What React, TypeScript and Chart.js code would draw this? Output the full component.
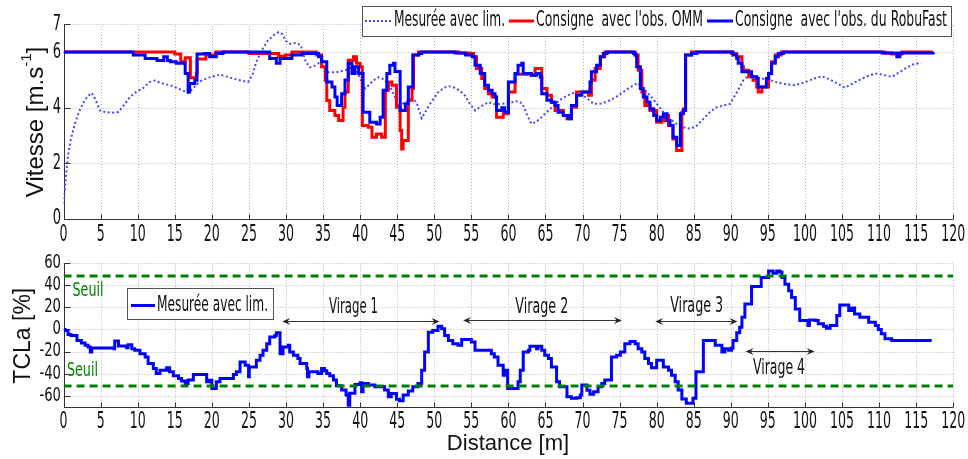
import React, { useEffect, useRef } from 'react';
import { Chart, registerables } from 'chart.js';
Chart.register(...registerables);

// ---------- DATA ----------
const xTicks = [0, 5, 10, 15, 20, 25, 30, 35, 40, 45, 50, 55, 60, 65, 70, 75, 80, 85, 90, 95, 100, 105, 110, 115, 120];
const vTicks = [0, 2, 4, 6, 7];
const tTicks = [-60, -40, -20, 0, 20, 40, 60];

// Vitesse mesurée avec limitation (dotted)
const mesX = [0, 0.3, 0.6, 1.0, 1.5, 2.0, 2.6, 3.2, 3.8, 4.3, 4.9, 5.6, 6.5, 7.4, 8.3, 9.0, 9.8, 10.7, 11.6, 12.3, 13.0, 14.0, 14.8, 15.8, 16.8, 17.5, 18.4, 19.5, 21.1, 22.0, 22.9, 24.0, 24.9, 25.5, 26.0, 26.7, 27.4, 28.3, 29.0, 29.5, 30.0, 30.5, 31.3, 32.0, 32.6, 33.2, 33.8, 34.4, 35.0, 35.7, 36.5, 37.1, 38.0, 38.9, 39.3, 39.8, 40.3, 40.7, 41.3, 41.8, 42.5, 43.0, 43.8, 44.5, 45.2, 45.8, 46.5, 47.2, 47.6, 48.3, 48.9, 49.7, 50.5, 51.3, 51.9, 52.8, 53.5, 54.1, 54.8, 55.5, 56.3, 57.3, 58.3, 59.1, 60.2, 61.3, 61.9, 62.5, 63.1, 63.8, 64.7, 65.8, 66.9, 68.0, 69.2, 70.3, 71.5, 72.6, 73.7, 74.6, 75.5, 76.5, 77.4, 78.2, 79.1, 80.0, 80.9, 81.8, 82.7, 83.6, 84.5, 85.4, 86.3, 87.2, 88.1, 89.0, 89.9, 90.8, 91.7, 92.4, 92.8, 93.5, 94.2, 95.1, 96.0, 97.3, 98.7, 100.0, 101.2, 102.3, 103.5, 104.5, 105.4, 106.5, 107.7, 108.6, 109.5, 110.6, 111.7, 112.6, 113.5, 114.8, 115.7];
const mesY = [0.55, 1.5, 2.3, 2.9, 3.4, 3.8, 4.15, 4.4, 4.53, 4.3, 3.9, 3.85, 3.82, 3.85, 4.15, 4.4, 4.57, 4.7, 4.92, 4.98, 4.9, 4.83, 4.77, 4.65, 4.53, 4.7, 4.95, 5.08, 5.19, 5.12, 5.05, 4.97, 4.93, 5.2, 5.65, 6.05, 6.37, 6.6, 6.72, 6.65, 6.4, 6.3, 6.33, 6.25, 5.7, 5.45, 5.5, 5.6, 5.45, 5.28, 5.28, 5.29, 5.35, 5.45, 5.4, 5.17, 4.85, 4.69, 4.85, 4.99, 5.1, 5.05, 4.87, 4.5, 4.1, 4.15, 4.26, 4.3, 4.2, 3.62, 3.9, 4.25, 4.55, 4.72, 4.78, 4.72, 4.6, 4.45, 4.15, 3.9, 4.05, 4.2, 4.12, 4.14, 4.18, 4.24, 4.15, 3.75, 3.42, 3.5, 3.72, 4.0, 4.27, 4.45, 4.57, 4.4, 4.14, 4.15, 4.27, 4.4, 4.57, 4.75, 4.89, 4.7, 4.45, 4.15, 3.84, 3.6, 3.42, 3.3, 3.24, 3.35, 3.6, 3.85, 4.02, 4.08, 4.14, 4.55, 5.0, 5.15, 5.17, 5.1, 5.05, 5.0, 4.93, 4.85, 4.81, 4.92, 5.05, 5.13, 5.0, 4.85, 4.72, 4.88, 5.05, 5.15, 5.23, 5.18, 5.11, 5.25, 5.41, 5.59, 5.59];

// Consigne avec l'obs. OMM (red)
const ommX = [0, 15.0, 15.8, 16.4, 17.1, 17.9, 18.0, 19.2, 20.5, 25.0, 29.0, 29.9, 30.8, 34.1, 34.8, 35.3, 35.5, 35.9, 36.6, 37.1, 37.7, 37.96, 38.4, 39.1, 39.5, 40.0, 40.3, 41.1, 41.6, 42.2, 42.9, 43.4, 43.8, 44.3, 44.9, 45.4, 45.6, 45.8, 46.5, 47.0, 47.2, 47.9, 53.3, 54.8, 55.3, 55.7, 56.4, 56.8, 57.3, 57.8, 58.4, 59.3, 60.0, 60.9, 62.0, 63.1, 63.6, 64.5, 65.2, 65.8, 66.3, 67.4, 67.9, 68.5, 69.2, 70.8, 71.2, 71.7, 72.4, 73.0, 77.1, 77.5, 78.0, 78.4, 79.1, 80.0, 80.7, 81.1, 81.6, 82.2, 82.7, 83.4, 83.6, 83.9, 84.7, 90.1, 90.8, 91.5, 91.7, 92.4, 93.0, 93.5, 93.7, 94.2, 95.1, 95.5, 96.0, 96.8, 110.8, 111.7, 113.1, 117.3];
const ommY = [6.0, 5.93, 5.65, 5.8, 5.08, 5.25, 5.75, 5.9, 6.0, 5.95, 5.85, 5.9, 6.0, 5.9, 5.47, 4.99, 4.26, 3.9, 3.72, 3.54, 4.02, 4.57, 5.71, 5.83, 5.6, 5.47, 3.36, 3.3, 2.94, 3.06, 2.94, 4.63, 4.93, 4.81, 4.02, 3.18, 2.52, 2.82, 4.27, 4.69, 5.9, 6.0, 5.97, 5.95, 5.83, 5.41, 5.05, 4.69, 4.5, 4.39, 3.66, 3.78, 4.57, 5.2, 5.2, 5.17, 5.41, 4.69, 4.45, 4.2, 3.9, 3.72, 3.6, 4.02, 4.57, 4.45, 4.99, 5.41, 5.83, 6.0, 5.9, 5.35, 4.57, 4.08, 3.9, 3.48, 3.54, 3.72, 3.36, 2.88, 2.46, 3.84, 3.96, 5.9, 6.0, 5.95, 5.83, 5.47, 5.35, 5.11, 4.99, 4.75, 4.57, 4.75, 5.23, 5.65, 5.9, 6.0, 5.97, 5.93, 6.0, 6.0];

// Consigne avec l'obs. du RobuFast (blue)
const robX = [0, 9.4, 11.0, 12.6, 13.5, 14.0, 14.4, 15.2, 16.4, 16.8, 17.0, 17.7, 18.0, 19.0, 19.7, 20.6, 21.5, 27.8, 28.7, 29.2, 30.8, 32.1, 34.4, 34.8, 35.5, 36.2, 36.6, 36.9, 37.5, 37.96, 38.4, 38.9, 39.3, 39.8, 40.4, 41.3, 42.2, 42.7, 43.1, 43.6, 44.0, 44.5, 44.7, 45.4, 46.1, 46.5, 47.1, 47.9, 48.3, 52.8, 54.2, 55.1, 55.5, 56.2, 56.8, 57.3, 57.8, 58.2, 58.4, 59.1, 59.5, 60.0, 60.9, 61.3, 61.8, 62.0, 63.1, 63.8, 64.3, 64.5, 65.2, 65.8, 66.3, 66.7, 67.4, 68.1, 68.5, 69.2, 69.9, 71.0, 71.2, 71.9, 72.4, 72.8, 73.3, 76.9, 77.1, 77.3, 77.8, 78.2, 78.7, 79.1, 79.6, 80.0, 80.5, 80.9, 81.4, 81.8, 82.2, 82.7, 83.2, 83.6, 83.9, 84.7, 85.4, 90.3, 90.8, 91.0, 91.5, 92.8, 93.5, 93.7, 94.8, 95.1, 95.5, 96.0, 96.4, 97.1, 110.4, 112.4, 112.8, 117.3];
const robY = [6.0, 5.9, 5.77, 5.7, 5.83, 5.7, 5.65, 5.6, 5.23, 4.57, 4.87, 4.99, 5.93, 5.95, 5.83, 5.95, 6.0, 5.77, 5.6, 5.77, 5.9, 5.95, 5.83, 5.65, 4.93, 4.75, 4.39, 4.08, 4.5, 5.0, 5.6, 5.23, 5.47, 5.23, 3.84, 3.48, 3.42, 3.66, 4.63, 5.23, 5.53, 5.6, 5.3, 3.9, 4.14, 4.75, 5.9, 5.95, 6.0, 5.97, 5.9, 5.83, 5.53, 5.23, 4.81, 4.63, 4.5, 4.39, 3.9, 4.0, 3.84, 4.93, 5.23, 5.53, 5.6, 5.23, 5.17, 5.23, 5.1, 4.5, 4.27, 4.2, 4.08, 3.84, 3.72, 3.6, 4.08, 4.45, 4.57, 4.93, 5.29, 5.53, 5.83, 5.95, 6.0, 5.95, 5.9, 5.47, 4.69, 4.39, 4.2, 3.96, 3.72, 3.54, 3.66, 3.78, 3.54, 3.36, 2.94, 2.64, 3.78, 3.9, 5.9, 5.95, 6.0, 5.9, 5.77, 5.6, 5.29, 5.11, 5.05, 4.75, 5.05, 5.23, 5.6, 5.83, 5.95, 6.0, 5.97, 5.83, 5.97, 6.0];

// TCLa mesurée avec limitation (%)
const tclaX = [0, 0.2, 0.6, 1.0, 1.8, 2.4, 2.9, 3.3, 3.6, 3.8, 6.8, 6.9, 7.4, 8.5, 8.7, 9.2, 9.6, 10.3, 11.0, 11.4, 12.1, 12.5, 13.0, 13.9, 14.3, 14.8, 15.5, 15.9, 16.4, 16.8, 17.5, 19.3, 19.7, 20.0, 20.6, 21.1, 22.9, 23.3, 23.8, 24.5, 24.95, 25.05, 26.0, 26.5, 26.9, 27.4, 27.8, 28.5, 28.7, 29.2, 29.6, 30.3, 30.5, 31.0, 31.6, 31.9, 32.8, 32.9, 33.1, 34.3, 34.8, 35.2, 35.5, 35.9, 36.4, 36.8, 37.5, 38.1, 38.4, 38.6, 39.3, 40.0, 40.2, 40.4, 41.1, 42.0, 43.3, 43.8, 44.2, 44.9, 45.3, 45.8, 46.5, 47.1, 47.8, 48.3, 48.7, 49.2, 49.8, 50.5, 51.0, 51.4, 51.9, 52.5, 53.2, 53.7, 55.0, 55.5, 57.7, 58.1, 58.6, 59.3, 59.7, 59.9, 61.3, 61.6, 62.0, 62.7, 62.9, 63.8, 64.0, 64.5, 64.9, 65.4, 65.8, 66.5, 66.9, 67.9, 68.5, 69.2, 69.7, 69.9, 70.6, 71.0, 71.5, 72.1, 72.6, 73.0, 73.9, 74.6, 75.1, 75.7, 76.4, 77.1, 77.5, 78.0, 78.4, 78.9, 79.3, 80.0, 80.9, 81.6, 82.0, 82.5, 82.9, 83.4, 84.0, 84.9, 85.3, 86.3, 87.9, 88.8, 89.2, 89.7, 90.1, 90.3, 90.8, 91.2, 91.5, 91.9, 92.8, 94.1, 95.1, 95.7, 96.2, 96.6, 96.9, 97.3, 97.8, 98.2, 98.7, 99.3, 100.4, 100.6, 101.4, 101.8, 102.5, 102.9, 103.4, 104.3, 104.7, 105.9, 106.3, 106.7, 107.4, 108.6, 109.5, 109.9, 110.3, 110.8, 111.7, 117.1];
const tclaY = [0, -1, -4.5, -5.4, -10, -12.3, -14.4, -15.9, -20.4, -16.8, -17.4, -10.5, -15, -16.5, -13.8, -17.4, -18.9, -21.9, -24.9, -30.9, -35.4, -39.9, -36.9, -34.8, -38.4, -42, -44.4, -46.8, -48.9, -45.9, -40.8, -47.4, -46, -53.4, -47.4, -44.4, -40.8, -38.4, -29.4, -32.4, -42.9, -33.9, -27.9, -23.4, -18.9, -12.9, -6.9, -5.4, -3, -21.9, -15.9, -14.4, -20.4, -23.4, -26.4, -30.9, -35.4, -42.9, -38.4, -39.9, -35.4, -37.5, -39.9, -42, -45.9, -51, -54.9, -59.4, -70, -57.9, -49.8, -48.3, -56.4, -49, -50.4, -51.9, -54.9, -60.9, -58, -63.3, -64.5, -59.4, -55.8, -51.9, -48.9, -36.9, -20.4, -2.4, -0.9, 3, 0.6, -5.4, -9.9, -12.9, -14.4, -9, -11.4, -18.9, -21.9, -24.9, -32.4, -41.4, -36.9, -53.4, -47.4, -36.9, -20.4, -18.9, -15.3, -17.4, -15.3, -18.9, -23.4, -26.4, -33.9, -47.4, -51.9, -60.9, -62.4, -61.8, -59.4, -50.4, -55, -58.8, -56.4, -51.9, -48.9, -45.9, -24.9, -23.4, -20.4, -12.9, -10.8, -12.9, -17.4, -20.4, -26.4, -30.9, -34.8, -27.9, -33.9, -36.9, -41.4, -47.4, -54.9, -63, -66.9, -62.4, -38.4, -9.9, -14.4, -20.4, -17.4, -18.9, -16.8, -9.9, -3, 2.1, 11.1, 23.1, 39, 47.1, 53.1, 51, 53.1, 52, 47.1, 41.1, 35.1, 29.1, 18.6, 8.1, 3.6, 8.6, 8.1, 5.1, 3, 1.2, 3.6, 12.6, 22.2, 17.1, 19.5, 14.1, 11.1, 6.6, 3.6, 0, -3.9, -8.4, -9.9, -9.9];

const seuils = [48.5, -51.3];
const seuilLabelX = [1.2, 0.45];
const seuilLabelY = [35, -37.6];

const virageLabels = ['Virage 1', 'Virage 2', 'Virage 3', 'Virage 4'];
const virageStart = [29.5, 53.9, 79.8, 92.0];
const virageEnd = [50.7, 75.3, 90.9, 101.3];
const virageArrowY = [8.0, 8.4, 7.7, -19.5];
const virageTextX = [39.1, 64.5, 85.4, 96.5];
const virageTextY = [19.5, 19.5, 21.0, -35.7];
const virageTextW = [49, 53, 53, 52];

const topLegend = ['Mesurée avec lim.', "Consigne  avec l'obs. OMM", "Consigne  avec l'obs. du RobuFast"];
const botLegend = ['Mesurée avec lim.'];

// ---------- STYLE ----------
const NARROW = '"Liberation Sans Narrow", "Arial Narrow", "DejaVu Sans Condensed", sans-serif';
const SANS = '"Liberation Sans", Arial, Helvetica, sans-serif';
const BLUE = '#0000ff';
const RED = '#ff0000';
const DOT_BLUE = 'rgb(70,70,255)';
const GREEN = '#008000';
const GRID = '#b4b4b4';
const AXIS = '#333333';
const TXT = '#111111';

const pts = (xs: number[], ys: number[]) => xs.map((x, i) => ({ x, y: ys[i] }));

function drawText(ctx: CanvasRenderingContext2D, s: string, x: number, y: number, size: number, sx: number, align: CanvasTextAlign, color: string, family = NARROW) {
  ctx.save();
  ctx.font = `${size}px ${family}`;
  ctx.translate(x, y);
  ctx.scale(sx, 1);
  ctx.fillStyle = color;
  ctx.textAlign = align;
  ctx.textBaseline = 'middle';
  ctx.fillText(s, 0, 0);
  ctx.restore();
}
function fitText(ctx: CanvasRenderingContext2D, s: string, x: number, y: number, size: number, w: number, align: CanvasTextAlign, color: string, family = NARROW) {
  ctx.save();
  ctx.font = `${size}px ${family}`;
  const m = ctx.measureText(s).width;
  ctx.restore();
  drawText(ctx, s, x, y, size, w / m, align, color, family);
}
function digitScale(ctx: CanvasRenderingContext2D, size: number, w: number) {
  ctx.save();
  ctx.font = `${size}px ${NARROW}`;
  const m = ctx.measureText('0').width;
  ctx.restore();
  return w / m;
}

function drawFrame(chart: any, yTicks: number[], xLabelY: number) {
  const ctx: CanvasRenderingContext2D = chart.ctx;
  const a = chart.chartArea;
  const xs = chart.scales.x;
  const ys = chart.scales.y;
  ctx.save();
  // grid
  ctx.strokeStyle = GRID;
  ctx.lineWidth = 1;
  ctx.setLineDash([1, 2]);
  xTicks.forEach((v) => {
    if (v === 0) return;
    const px = Math.round(xs.getPixelForValue(v)) + 0.5;
    ctx.beginPath(); ctx.moveTo(px, a.bottom); ctx.lineTo(px, a.top); ctx.stroke();
  });
  yTicks.forEach((v) => {
    const py = Math.round(ys.getPixelForValue(v)) + 0.5;
    if (Math.abs(py - a.bottom) < 2) return;
    ctx.beginPath(); ctx.moveTo(a.left, py); ctx.lineTo(a.right, py); ctx.stroke();
  });
  ctx.setLineDash([]);
  // axes
  ctx.strokeStyle = AXIS;
  const L = Math.round(a.left) + 0.5;
  const B = Math.round(a.bottom) + 0.5;
  ctx.beginPath(); ctx.moveTo(L, a.top); ctx.lineTo(L, B); ctx.lineTo(a.right, B); ctx.stroke();
  // inward ticks
  xTicks.forEach((v) => {
    const px = Math.round(xs.getPixelForValue(v)) + 0.5;
    ctx.beginPath(); ctx.moveTo(px, B); ctx.lineTo(px, B - 5); ctx.stroke();
  });
  yTicks.forEach((v) => {
    const py = Math.round(ys.getPixelForValue(v)) + 0.5;
    ctx.beginPath(); ctx.moveTo(L, py); ctx.lineTo(L + 6, py); ctx.stroke();
  });
  ctx.restore();
  // x labels
  const sxX = digitScale(ctx, 23, 8);
  xTicks.forEach((v) => {
    drawText(ctx, String(v), xs.getPixelForValue(v), xLabelY, 23, sxX, 'center', TXT);
  });
}

function legendBox(ctx: CanvasRenderingContext2D, x0: number, y0: number, x1: number, y1: number) {
  ctx.save();
  ctx.fillStyle = '#ffffff';
  ctx.fillRect(x0, y0, x1 - x0, y1 - y0);
  ctx.strokeStyle = '#555555';
  ctx.lineWidth = 1;
  ctx.strokeRect(x0 + 0.5, y0 + 0.5, x1 - x0, y1 - y0);
  ctx.restore();
}
function legendLine(ctx: CanvasRenderingContext2D, x0: number, x1: number, y: number, color: string, width: number, dash: number[]) {
  ctx.save();
  ctx.strokeStyle = color;
  ctx.lineWidth = width;
  ctx.setLineDash(dash);
  ctx.beginPath(); ctx.moveTo(x0, y); ctx.lineTo(x1, y); ctx.stroke();
  ctx.restore();
}
function arrowHead(ctx: CanvasRenderingContext2D, x: number, y: number, dir: number) {
  ctx.beginPath();
  ctx.moveTo(x, y);
  ctx.lineTo(x - dir * 8, y - 3.5);
  ctx.lineTo(x - dir * 5, y);
  ctx.lineTo(x - dir * 8, y + 3.5);
  ctx.closePath();
  ctx.fill();
}

const topPlugin = {
  id: 'topDecor',
  beforeDatasetsDraw(chart: any) {
    const ctx: CanvasRenderingContext2D = chart.ctx;
    const ys = chart.scales.y;
    drawFrame(chart, vTicks, 235);
    const sy = digitScale(ctx, 21, 8.3);
    vTicks.forEach((v) => drawText(ctx, String(v), 61, ys.getPixelForValue(v), 21, sy, 'right', TXT));
    // y title with superscript
    ctx.save();
    ctx.translate(36, 122);
    ctx.rotate(-Math.PI / 2);
    ctx.fillStyle = TXT;
    ctx.textBaseline = 'middle';
    ctx.textAlign = 'left';
    ctx.font = `24px ${SANS}`;
    const p1 = 'Vitesse [m.s';
    const p3 = ']';
    const w1 = ctx.measureText(p1).width;
    const w3 = ctx.measureText(p3).width;
    ctx.font = `15px ${SANS}`;
    const p2 = '-1';
    const w2 = ctx.measureText(p2).width;
    const tot = w1 + w2 + w3;
    let x = -tot / 2;
    ctx.font = `24px ${SANS}`;
    ctx.fillText(p1, x, 0);
    x += w1;
    ctx.font = `15px ${SANS}`;
    ctx.fillText(p2, x, -9);
    x += w2;
    ctx.font = `24px ${SANS}`;
    ctx.fillText(p3, x, 0);
    ctx.restore();
  },
  afterDraw(chart: any) {
    const ctx: CanvasRenderingContext2D = chart.ctx;
    legendBox(ctx, 362, 6, 951, 36);
    const cy = 21;
    legendLine(ctx, 365, 392, cy, DOT_BLUE, 2, [2, 2]);
    fitText(ctx, topLegend[0], 394, cy, 21, 111, 'left', TXT);
    legendLine(ctx, 509, 534, cy, RED, 3, []);
    fitText(ctx, topLegend[1], 536, cy, 21, 167, 'left', TXT);
    legendLine(ctx, 707, 733, cy, BLUE, 3, []);
    fitText(ctx, topLegend[2], 735, cy, 21, 212, 'left', TXT);
  },
};

const botPlugin = {
  id: 'botDecor',
  beforeDatasetsDraw(chart: any) {
    const ctx: CanvasRenderingContext2D = chart.ctx;
    const ys = chart.scales.y;
    drawFrame(chart, [...tTicks, -70], 171.7);
    const sy = digitScale(ctx, 19, 8.4);
    tTicks.forEach((v) => drawText(ctx, String(v), 61, ys.getPixelForValue(v), 19, sy, 'right', TXT));
    // y title
    ctx.save();
    ctx.translate(23.5, 85.7);
    ctx.rotate(-Math.PI / 2);
    ctx.fillStyle = TXT;
    ctx.textBaseline = 'middle';
    ctx.textAlign = 'center';
    ctx.font = `23px ${SANS}`;
    ctx.fillText('TCLa [%]', 0, 0);
    ctx.restore();
    // x title
    ctx.save();
    ctx.fillStyle = TXT;
    ctx.textBaseline = 'middle';
    ctx.textAlign = 'center';
    ctx.font = `22px ${SANS}`;
    ctx.fillText('Distance [m]', 508, 194);
    ctx.restore();
  },
  afterDraw(chart: any) {
    const ctx: CanvasRenderingContext2D = chart.ctx;
    const xs = chart.scales.x;
    const ys = chart.scales.y;
    // Seuil labels
    seuilLabelX.forEach((v, i) => {
      fitText(ctx, 'Seuil', xs.getPixelForValue(v), ys.getPixelForValue(seuilLabelY[i]), 20, 31, 'left', GREEN);
    });
    // Virage arrows
    ctx.save();
    ctx.strokeStyle = '#333333';
    ctx.fillStyle = '#222222';
    ctx.lineWidth = 1;
    virageLabels.forEach((lab, i) => {
      const x0 = xs.getPixelForValue(virageStart[i]);
      const x1 = xs.getPixelForValue(virageEnd[i]);
      const y = Math.round(ys.getPixelForValue(virageArrowY[i])) + 0.5;
      ctx.beginPath(); ctx.moveTo(x0 + 4, y); ctx.lineTo(x1 - 4, y); ctx.stroke();
      arrowHead(ctx, x0, y, -1);
      arrowHead(ctx, x1, y, 1);
      fitText(ctx, lab, xs.getPixelForValue(virageTextX[i]), ys.getPixelForValue(virageTextY[i]), 21, virageTextW[i], 'center', TXT);
    });
    ctx.restore();
    // legend
    legendBox(ctx, 127, 38, 273, 69);
    const cy = 55.5;
    legendLine(ctx, 131, 155, cy, BLUE, 3, []);
    fitText(ctx, botLegend[0], 157, cy, 21, 111, 'left', TXT);
  },
};

export default function App() {
  const topRef = useRef<HTMLCanvasElement>(null);
  const botRef = useRef<HTMLCanvasElement>(null);

  useEffect(() => {
    const common = {
      animation: false as const,
      responsive: true,
      maintainAspectRatio: false,
      events: [] as any[],
      plugins: { legend: { display: false }, tooltip: { enabled: false } },
      elements: { point: { radius: 0 }, line: { tension: 0 } },
    };
    const top = new Chart(topRef.current as HTMLCanvasElement, {
      type: 'line',
      data: {
        datasets: [
          { data: pts(robX, robY), borderColor: BLUE, borderWidth: 3, stepped: true, fill: false } as any,
          { data: pts(ommX, ommY), borderColor: RED, borderWidth: 3, stepped: true, fill: false } as any,
          { data: pts(mesX, mesY), borderColor: DOT_BLUE, borderWidth: 2, borderDash: [2, 2.5], fill: false } as any,
        ],
      },
      options: {
        ...common,
        layout: { padding: { left: 0, right: 14.8, top: 24.3, bottom: 0 } },
        scales: {
          x: {
            type: 'linear', min: 0, max: 120,
            grid: { display: false }, border: { display: false }, ticks: { display: false },
            afterFit: (s: any) => { s.height = 31; },
          },
          y: {
            type: 'linear', min: 0, max: 7,
            grid: { display: false }, border: { display: false }, ticks: { display: false },
            afterFit: (s: any) => { s.width = 63.6; },
          },
        },
      } as any,
      plugins: [topPlugin],
    });
    const bot = new Chart(botRef.current as HTMLCanvasElement, {
      type: 'line',
      data: {
        datasets: [
          { data: [{ x: 0, y: seuils[0] }, { x: 120, y: seuils[0] }], borderColor: GREEN, borderWidth: 3, borderDash: [8, 5], fill: false } as any,
          { data: [{ x: 0, y: seuils[1] }, { x: 120, y: seuils[1] }], borderColor: GREEN, borderWidth: 3, borderDash: [8, 5], fill: false } as any,
          { data: pts(tclaX, tclaY), borderColor: BLUE, borderWidth: 3, stepped: true, fill: false } as any,
        ],
      },
      options: {
        ...common,
        layout: { padding: { left: 0, right: 14.8, top: 13.3, bottom: 0 } },
        scales: {
          x: {
            type: 'linear', min: 0, max: 120,
            grid: { display: false }, border: { display: false }, ticks: { display: false },
            afterFit: (s: any) => { s.height = 52.3; },
          },
          y: {
            type: 'linear', min: -70, max: 60,
            grid: { display: false }, border: { display: false }, ticks: { display: false },
            afterFit: (s: any) => { s.width = 63.6; },
          },
        },
      } as any,
      plugins: [botPlugin],
    });
    return () => { top.destroy(); bot.destroy(); };
  }, []);

  return (
    <div style={{ position: 'absolute', left: 0, top: 0, width: 968, height: 459, background: '#ffffff' }}>
      <div style={{ position: 'absolute', left: 0, top: 0, width: 968, height: 250 }}>
        <canvas ref={topRef} />
      </div>
      <div style={{ position: 'absolute', left: 0, top: 250, width: 968, height: 209 }}>
        <canvas ref={botRef} />
      </div>
    </div>
  );
}
